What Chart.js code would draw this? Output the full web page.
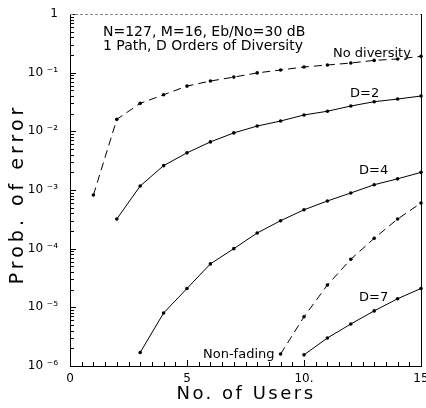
<!DOCTYPE html>
<html>
<head>
<meta charset="utf-8">
<script src="https://cdn.jsdelivr.net/npm/chart.js@4"></script>
<style>
  html, body { margin: 0; padding: 0; background: #fff; }
</style>
</head>
<body>
<canvas id="myChart" width="426" height="408"></canvas>
<script>
const ctx = document.getElementById('myChart');

// Data (x = no. of users, y = probability of error)
const users = [1, 2, 3, 4, 5, 6, 7, 8, 9, 10, 11, 12, 13, 14, 15];
const noDiversity = [8.2e-4, 1.6e-2, 3.0e-2, 4.2e-2, 5.9e-2, 7.2e-2, 8.4e-2, 9.9e-2, 0.111, 0.125, 0.135, 0.146, 0.162, 0.171, 0.19];
const d2 = [null, 3.2e-4, 1.17e-3, 2.6e-3, 4.3e-3, 6.6e-3, 9.4e-3, 1.23e-2, 1.5e-2, 1.9e-2, 2.2e-2, 2.7e-2, 3.2e-2, 3.55e-2, 4.0e-2];
const d4 = [null, null, 1.7e-6, 8.0e-6, 2.1e-5, 5.5e-5, 1.0e-4, 1.85e-4, 3.0e-4, 4.6e-4, 6.5e-4, 8.9e-4, 1.23e-3, 1.55e-3, 2.0e-3];
const d7 = [null, null, null, null, null, null, null, null, null, 1.55e-6, 3.0e-6, 5.2e-6, 8.7e-6, 1.4e-5, 2.1e-5];
const nonFading = [null, null, null, null, null, null, null, null, 1.6e-6, 6.9e-6, 2.4e-5, 6.6e-5, 1.5e-4, 3.2e-4, 6.0e-4];

const yTicks = [1e-6, 1e-5, 1e-4, 1e-3, 1e-2, 1e-1, 1];
const xTicks = [0, 5, 10, 15];
const xTickLabels = ['0', '5', '10.', '15'];
const sup = { '-': '\u207B', '1': '\u00B9', '2': '\u00B2', '3': '\u00B3', '4': '\u2074', '5': '\u2075', '6': '\u2076' };

// Text placed in the plot
const notes = [
    { text: 'N=127, M=16, Eb/No=30 dB', x: 103, y: 32, size: 14 },
    { text: '1 Path, D Orders of Diversity', x: 103, y: 46, size: 14 },
    { text: 'No diversity', x: 333, y: 54, size: 13 },
    { text: 'D=2', x: 350, y: 94, size: 13 },
    { text: 'D=4', x: 359, y: 171, size: 13 },
    { text: 'D=7', x: 359, y: 298, size: 13 },
    { text: 'Non-fading', x: 203, y: 355, size: 13 }
];

const FONT = "'DejaVu Sans', sans-serif";

function toPoints(arr) {
    return users.map((u, i) => ({ x: u, y: arr[i] })).filter(p => p.y !== null);
}

function line(arr, dashed) {
    return {
        data: toPoints(arr),
        borderColor: '#000',
        backgroundColor: '#000',
        borderWidth: 1,
        borderDash: dashed ? [8, 5] : [],
        pointRadius: 1.8,
        pointBackgroundColor: '#000',
        pointBorderWidth: 0,
        tension: 0,
        clip: false
    };
}

// Inward tick marks, top/right frame, axis titles and notes
const frame = {
    id: 'frame',
    afterDraw(chart) {
        const c = chart.ctx;
        const a = chart.chartArea;
        const x = chart.scales.x, y = chart.scales.y;
        c.save();
        c.strokeStyle = '#000';
        c.lineWidth = 1;
        c.beginPath();
        for (let d = -6; d <= 0; d++) {
            for (let k = 1; k <= 9; k++) {
                if (d === 0 && k > 1) break;
                const py = Math.round(y.getPixelForValue(k * Math.pow(10, d))) + 0.5;
                const len = k === 1 ? 6 : 4;
                c.moveTo(a.left, py);
                c.lineTo(a.left + len, py);
            }
        }
        for (let v = 0; v <= 15; v += 0.5) {
            const px = Math.round(x.getPixelForValue(v)) + 0.5;
            const len = v % 5 === 0 ? 6 : 4;
            c.moveTo(px, a.bottom);
            c.lineTo(px, a.bottom - len);
        }
        c.moveTo(Math.round(a.right) + 0.5, a.top);
        c.lineTo(Math.round(a.right) + 0.5, a.bottom);
        c.stroke();

        c.strokeStyle = '#888';
        c.setLineDash([3, 2]);
        c.beginPath();
        c.moveTo(a.left, Math.round(a.top) + 0.5);
        c.lineTo(a.right, Math.round(a.top) + 0.5);
        c.stroke();
        c.setLineDash([]);

        c.fillStyle = '#000';
        c.textBaseline = 'middle';
        c.textAlign = 'left';
        notes.forEach(n => {
            c.font = n.size + 'px ' + FONT;
            c.fillText(n.text, n.x, n.y);
        });

        // axis titles
        c.textAlign = 'center';
        c.font = '18px ' + FONT;
        c.letterSpacing = '2.5px';
        c.fillText('No. of Users', 246, 394);
        c.translate(18, 194);
        c.rotate(-Math.PI / 2);
        c.font = '19px ' + FONT;
        c.letterSpacing = '4px';
        c.fillText('Prob. of error', 0, 0);
        c.restore();
    }
};

let options = {
    responsive: false,
    animation: false,
    devicePixelRatio: 1,
    layout: { padding: { top: 14, right: 5, left: 0, bottom: 0 } },
    plugins: { legend: { display: false }, tooltip: { enabled: false } },
    scales: {
        x: {
            type: 'linear',
            min: 0,
            max: 15,
            grid: { display: false, drawTicks: false },
            border: { display: true, color: '#000', width: 1 },
            afterBuildTicks: s => { s.ticks = xTicks.map(v => ({ value: v })); },
            afterFit: s => { s.height = 42; s.paddingLeft = 0; s.paddingRight = 0; },
            ticks: {
                color: '#000',
                font: { family: FONT, size: 12 },
                padding: 6,
                maxRotation: 0,
                autoSkip: false,
                callback: v => xTickLabels[xTicks.indexOf(v)]
            }
        },
        y: {
            type: 'logarithmic',
            min: 1e-6,
            max: 1,
            grid: { display: false, drawTicks: false },
            border: { display: true, color: '#000', width: 1 },
            afterBuildTicks: s => { s.ticks = yTicks.map(v => ({ value: v })); },
            afterFit: s => { s.width = 70; s.paddingTop = 0; s.paddingBottom = 0; },
            ticks: {
                color: '#000',
                font: { family: FONT, size: 12 },
                padding: 12,
                autoSkip: false,
                callback: v => {
                    if (v === 1) return '1';
                    const e = String(Math.round(Math.log10(v)));
                    return '10 ' + e.split('').map(ch => sup[ch]).join('');
                }
            }
        }
    }
};

let chartData = {
    type: 'line',
    data: {
        datasets: [
            line(noDiversity, true),
            line(d2, false),
            line(d4, false),
            line(d7, false),
            line(nonFading, true)
        ]
    },
    options: options,
    plugins: [frame]
};

const myChart = new Chart(ctx, chartData);
</script>
</body>
</html>
